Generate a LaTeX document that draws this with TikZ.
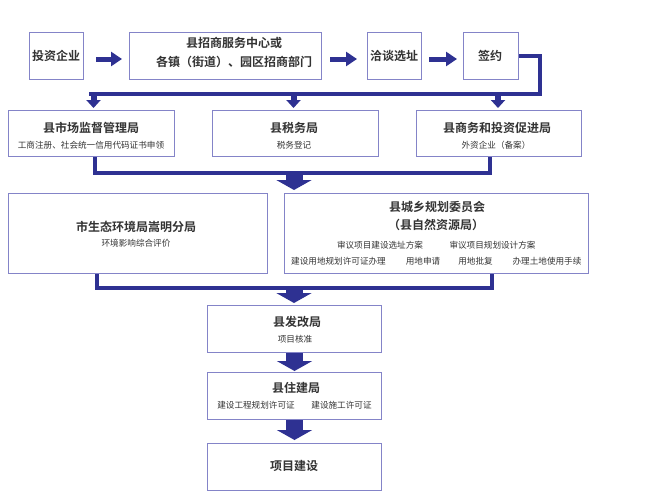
\documentclass[tikz,border=0pt]{standalone}
\usepackage{fontspec}
\newfontfamily\cjk{Noto Sans CJK SC}[BoldFont={Noto Sans CJK SC Bold}]
\usetikzlibrary{arrows.meta}
\definecolor{navy}{HTML}{2E3192}
\definecolor{bord}{HTML}{8484C8}
\definecolor{txt}{HTML}{333333}
\begin{document}
\begin{tikzpicture}[x=1pt,y=-1pt,
  box/.style={draw=bord,line width=1pt,fill=white,inner sep=0pt,anchor=north west},
  ttl/.style={font=\cjk\bfseries\fontsize{12}{14}\selectfont,text=txt,inner sep=0pt},
  sub/.style={font=\cjk\fontsize{8.6}{10}\selectfont,text=txt,inner sep=0pt},
  conn/.style={draw=navy,line width=4pt},
  harrow/.style={draw=navy,fill=navy,line width=5pt,-{Triangle[width=14pt,length=11pt]}},
  sarrow/.style={draw=navy,fill=navy,line width=6pt,-{Triangle[width=14pt,length=8pt]}},
  barrow/.style={draw=navy,fill=navy,line width=17pt,-{Triangle[width=35pt,length=10pt]}}]
\fill[white] (0,0) rectangle (650,496);
\useasboundingbox (0,0) rectangle (650,496);
% row 1
\node[box,minimum width=54pt,minimum height=47pt] (inv) at (29,32) {};
\node[box,minimum width=192pt,minimum height=47pt] (c1) at (129,32) {};
\node[box,minimum width=54pt,minimum height=47pt] (talk) at (367,32) {};
\node[box,minimum width=55pt,minimum height=47pt] (sign) at (463,32) {};
\node[ttl] (tinv) at (56,55.5) {投资企业};
\node[ttl] (tc1a) at (234,43) {县招商服务中心或};
\node[ttl] (tc1b) at (234,62) {各镇（街道）、园区招商部门};
\node[ttl] (ttalk) at (394,55.5) {洽谈选址};
\node[ttl] (tsign) at (490,55.5) {签约};
\draw[harrow] ([xshift=12pt,yshift=-3pt]inv.east) -- ([xshift=-7pt,yshift=-3pt]c1.west);
\draw[harrow] ([xshift=8pt,yshift=-3pt]c1.east) -- ([xshift=-10pt,yshift=-3pt]talk.west);
\draw[harrow] ([xshift=7pt,yshift=-3pt]talk.east) -- ([xshift=-6pt,yshift=-3pt]sign.west);
% row 2
\node[box,minimum width=166pt,minimum height=46pt] (mkt) at (8,110) {};
\node[box,minimum width=166pt,minimum height=46pt] (tax) at (212,110) {};
\node[box,minimum width=165pt,minimum height=46pt] (com) at (416,110) {};
\node[ttl] (tmkt) at (91,128) {县市场监督管理局};
\node[sub] (smkt) at (91,145) {工商注册、社会统一信用代码证书申领};
\node[ttl] (ttax) at (294,128) {县税务局};
\node[sub] (stax) at (294,145) {税务登记};
\node[ttl] (tcom) at (497,128) {县商务和投资促进局};
\node[sub] (scom) at (496,145) {外资企业（备案）};
\coordinate (ca) at (540,94);
\coordinate (cb) at (89,94);
\draw[conn] (sign.east) -| (ca) -- (cb);
\draw[sarrow,shorten >=2pt] ([xshift=2pt]mkt.north |- ca) -- ([xshift=2pt]mkt.north);
\draw[sarrow,shorten >=2pt] ([xshift=-2pt]tax.north |- ca) -- ([xshift=-2pt]tax.north);
\draw[sarrow,shorten >=2pt] ([xshift=-1pt]com.north |- ca) -- ([xshift=-1pt]com.north);
% row 3
\node[box,minimum width=259pt,minimum height=80pt] (env) at (8,193) {};
\node[box,minimum width=304pt,minimum height=80pt] (plan) at (284,193) {};
\coordinate (cc) at (490,173);
\draw[conn] ([xshift=3pt]mkt.south) |- (cc) -- (cc |- com.south);
\coordinate (cd) at (294,171);
\coordinate (ce) at (294,190);
\draw[barrow] (cd) -- (ce);
\node[ttl] (tenv) at (136,227) {市生态环境局嵩明分局};
\node[sub] (senv) at (136,243) {环境影响综合评价};
\node[ttl] (tpa) at (437,207) {县城乡规划委员会};
\node[ttl] (tpb) at (436,225) {（县自然资源局）};
\node[sub] (sp1) at (380,245) {审议项目建设选址方案};
\node[sub] (sp2) at (492.5,245) {审议项目规划设计方案};
\node[sub] (sp3) at (338.5,261) {建设用地规划许可证办理};
\node[sub] (sp4) at (423,261) {用地申请};
\node[sub] (sp5) at (475.5,261) {用地批复};
\node[sub] (sp6) at (547,261) {办理土地使用手续};
\coordinate (cf) at (492,288);
\draw[conn] ([xshift=89pt]env.south west) |- (cf) -- (cf |- plan.south);
\coordinate (cg) at (294,286);
\coordinate (ch) at (294,303);
\draw[barrow] (cg) -- (ch);
% row 4-6
\node[box,minimum width=174pt,minimum height=47pt] (fg) at (207,305) {};
\node[box,minimum width=174pt,minimum height=47pt] (zj) at (207,372) {};
\node[box,minimum width=174pt,minimum height=47pt] (xm) at (207,443) {};
\node[ttl] (tfg) at (297,322) {县发改局};
\node[sub] (sfg) at (295,339) {项目核准};
\node[ttl] (tzj) at (296,388) {县住建局};
\node[sub] (szj1) at (256,405) {建设工程规划许可证};
\node[sub] (szj2) at (341.5,405) {建设施工许可证};
\node[ttl] (txm) at (294,466) {项目建设};
\draw[barrow,shorten >=1pt] (fg.south) -- (zj.north);
\draw[barrow,shorten >=3pt] (zj.south) -- (xm.north);
\end{tikzpicture}
\end{document}
